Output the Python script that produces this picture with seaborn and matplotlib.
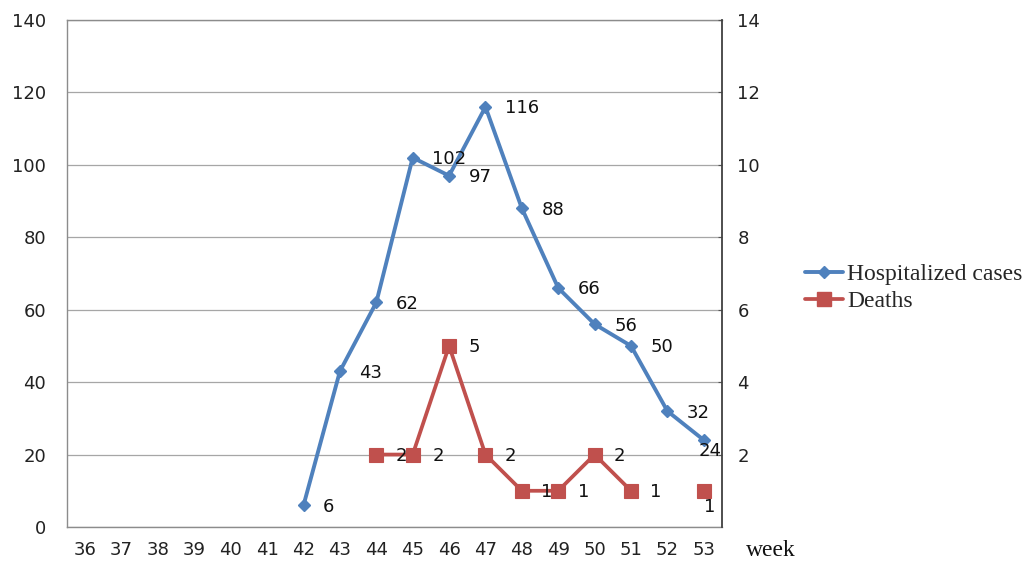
import numpy as np
import pandas as pd
import matplotlib
matplotlib.use("Agg")
import matplotlib.pyplot as plt
from matplotlib.lines import Line2D
import seaborn as sns

# weekly data
weeks = list(range(36, 54))
hosp_weeks = [42, 43, 44, 45, 46, 47, 48, 49, 50, 51, 52, 53]
hosp_cases = [6, 43, 62, 102, 97, 116, 88, 66, 56, 50, 32, 24]
death_weeks = [44, 45, 46, 47, 48, 49, 50, 51, 53]
death_counts = [2, 2, 5, 2, 1, 1, 2, 1, 1]
death_run = [1, 1, 1, 1, 1, 1, 1, 1, 2]  # no value for week 52 -> line breaks
left_ticks = [0, 20, 40, 60, 80, 100, 120, 140]
right_ticks = [2, 4, 6, 8, 10, 12, 14]

blue = "#4F81BD"
red = "#C0504D"
grid_col = "#A6A6A6"

sns.set_style("white")
plt.rcParams["font.family"] = ["DejaVu Sans"]

fig, ax = plt.subplots(figsize=(10.32, 5.62), dpi=100)
fig.subplots_adjust(left=67/1032, right=722/1032, bottom=35/562, top=542/562)

hosp_df = pd.DataFrame({"week": hosp_weeks, "cases": hosp_cases})
sns.lineplot(data=hosp_df, x="week", y="cases", ax=ax, color=blue, lw=2.8,
             marker="D", ms=6.5, mec=blue, mew=1, legend=False, zorder=3)

ax2 = ax.twinx()
death_df = pd.DataFrame({"week": death_weeks, "deaths": death_counts, "run": death_run})
sns.lineplot(data=death_df, x="week", y="deaths", units="run", estimator=None, ax=ax2,
             color=red, lw=2.7, marker="s", ms=10, mec=red, mew=0.8, legend=False)

# axes & ticks
ax.set_xlim(35.5, 53.5)
ax.set_ylim(0, 140)
ax2.set_ylim(0, 14)
ax.set_xticks(weeks)
ax.set_xticks(np.arange(36.5, 53.5, 1), minor=True)
ax.set_yticks(left_ticks)
ax2.set_yticks(right_ticks)
ax.set_xlabel("")
ax.set_ylabel("")
ax2.set_ylabel("")

ax.tick_params(axis="x", which="major", length=0, pad=10, labelsize=13, labelcolor="#222222")
ax.tick_params(axis="x", which="minor", direction="in", length=4, color="#888888", width=0.9)
ax.tick_params(axis="y", length=0, pad=15, labelsize=13, labelcolor="#222222")
ax2.tick_params(axis="y", direction="in", length=3, color="#555555", pad=11,
                labelsize=13, labelcolor="#222222")

ax.yaxis.grid(True, color=grid_col, lw=0.9)
ax.xaxis.grid(False)
ax.set_axisbelow(True)

for s in ["left", "bottom", "top"]:
    ax.spines[s].set_color("#8C8C8C")
    ax.spines[s].set_linewidth(1.0)
ax.spines["right"].set_visible(False)
for s in ["left", "bottom", "top"]:
    ax2.spines[s].set_visible(False)
ax2.spines["right"].set_color("#404040")
ax2.spines["right"].set_linewidth(1.3)

# data labels
for w, v in zip(hosp_weeks, hosp_cases):
    off = (-4, -7.5) if w == 53 else (14, -1)
    ax.annotate(str(v), (w, v), xytext=off, textcoords="offset points",
                ha="left", va="center", fontsize=13, color="#111111", zorder=5)
for w, v in zip(death_weeks, death_counts):
    off = (0.5, -12) if w == 53 else (14, -1)
    ax2.annotate(str(v), (w, v), xytext=off, textcoords="offset points",
                 ha="left", va="center", fontsize=13, color="#111111")

fig.text(771/1032, 1 - 551/562, "week", ha="center", va="center",
         family="Liberation Serif", size=17, color="#111111")

handles = [Line2D([], [], color=blue, lw=2.8, marker="D", ms=6, mec=blue),
           Line2D([], [], color=red, lw=2.7, marker="s", ms=10, mec=red)]
fig.legend(handles, ["Hospitalized cases", "Deaths"], loc="center left",
           bbox_to_anchor=(793/1032, 1 - 288/562), frameon=False, borderpad=0,
           handlelength=1.6, handletextpad=0.2, labelspacing=0.25,
           prop=dict(family="Liberation Serif", size=17))

fig.savefig("out.png", dpi=100)
